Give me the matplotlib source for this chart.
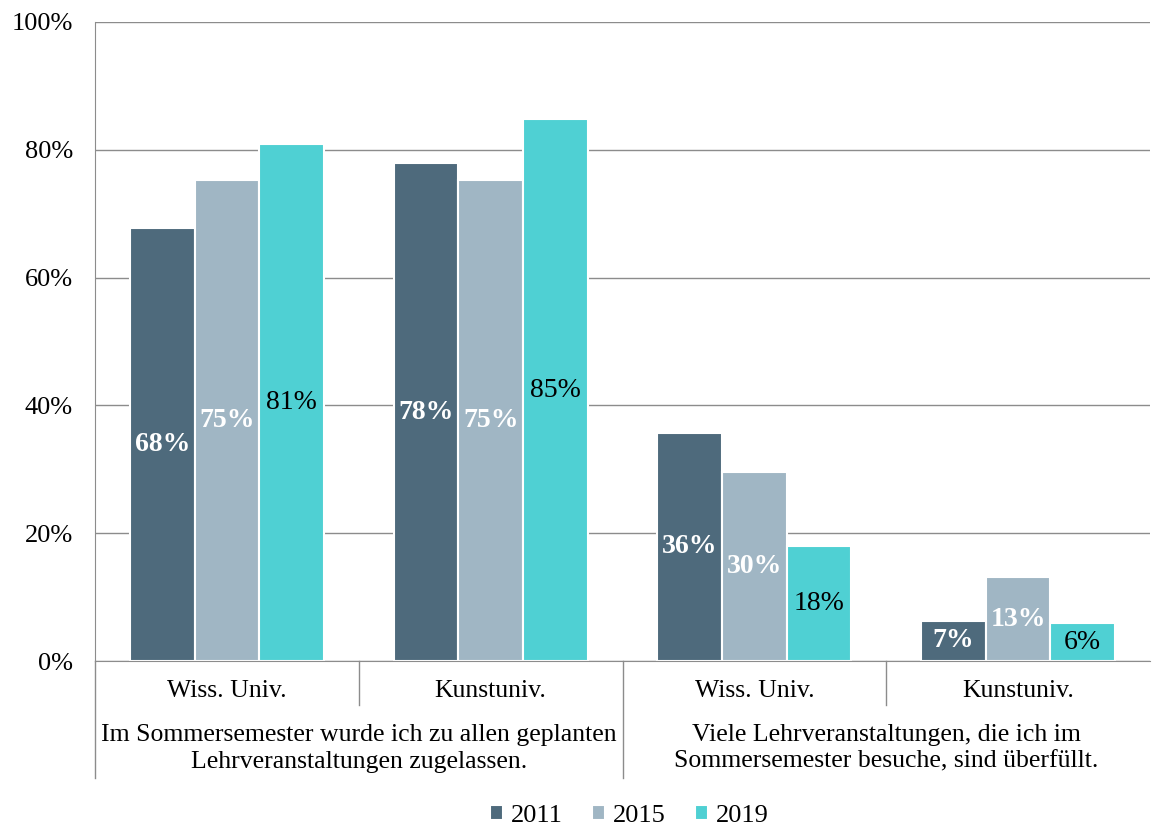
import numpy as np
import matplotlib.pyplot as plt

# Daten
kategorien = ["Wiss. Univ.", "Kunstuniv.", "Wiss. Univ.", "Kunstuniv."]
gruppen = ["Im Sommersemester wurde ich zu allen geplanten\nLehrveranstaltungen zugelassen.",
           "Viele Lehrveranstaltungen, die ich im\nSommersemester besuche, sind überfüllt."]
jahre = ["2011", "2015", "2019"]
anzeige_2011 = [68, 78, 36, 7]
anzeige_2015 = [75, 75, 30, 13]
anzeige_2019 = [81, 85, 18, 6]
werte_2011_roh = [67.8, 77.9, 35.7, 6.3]
werte_2015_roh = [75.3, 75.3, 29.6, 13.1]
werte_2019_roh = [80.9, 84.8, 18.0, 5.9]

plt.rcParams['font.family'] = ['Liberation Serif', 'DejaVu Serif']

farben = ["#4e6a7c", "#a0b6c4", "#4fd0d3"]
grau = "#8c8c8c"
fs = 18.5

fig = plt.figure(figsize=(11.55, 8.27), dpi=100)
ax = fig.add_axes([0.0823, 0.2007, 0.9134, 0.7727])

x = np.arange(len(kategorien))
breite = 0.245
serien = [(werte_2011_roh, anzeige_2011), (werte_2015_roh, anzeige_2015), (werte_2019_roh, anzeige_2019)]
for i, (roh, anz) in enumerate(serien):
    bars = ax.bar(x + (i - 1) * breite, roh, width=breite, color=farben[i],
                  edgecolor="white", linewidth=1.5, label=jahre[i], zorder=3)
    labels = [f"{v}%" for v in anz]
    if i < 2:
        ax.bar_label(bars, labels=labels, label_type="center", color="white",
                     fontweight="bold", fontsize=fs + 1.5, zorder=4)
    else:
        ax.bar_label(bars, labels=labels, label_type="center", color="black",
                     fontsize=fs + 1.5, zorder=4)

ax.set_xlim(-0.5, 3.5)
ax.set_ylim(0, 100)
ax.set_yticks(np.arange(0, 101, 20))
ax.set_yticklabels([f"{v}%" for v in range(0, 101, 20)], fontsize=fs + 0.5)
ax.tick_params(axis="y", length=0, pad=16)
ax.yaxis.grid(True, color=grau, linewidth=1.0, zorder=0)
ax.set_axisbelow(True)
ax.set_xticks([])

for s in ["top", "right"]:
    ax.spines[s].set_visible(False)
ax.spines["left"].set_color(grau)
ax.spines["bottom"].set_color(grau)
ax.spines["bottom"].set_zorder(5)

# Kategorien-Achse mit Trennlinien
trans = ax.get_xaxis_transform()
for xs, y_end in [(-0.5, -0.183), (0.5, -0.069), (1.5, -0.183), (2.5, -0.069)]:
    ax.plot([xs, xs], [0, y_end], color=grau, linewidth=1.0, transform=trans, clip_on=False)

for xi, k in zip(x, kategorien):
    ax.text(xi, -0.047, k, transform=trans, ha="center", va="center", fontsize=fs)
for gi, g in enumerate(gruppen):
    ax.text(2 * gi + 0.5, -0.137, g, transform=trans, ha="center", va="center",
            fontsize=fs, linespacing=1.25)

fig.legend(loc="lower center", ncol=3, frameon=False, fontsize=fs + 0.5,
           handlelength=0.5, handleheight=0.5, handletextpad=0.3, columnspacing=1.1,
           bbox_to_anchor=(0.545, -0.029))

fig.savefig("out.png", dpi=100)
